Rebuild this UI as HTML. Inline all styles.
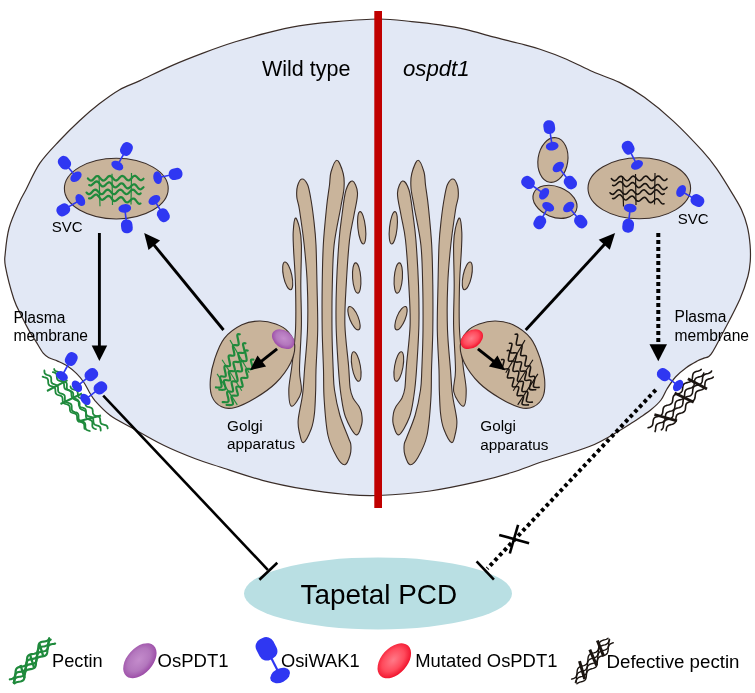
<!DOCTYPE html>
<html><head><meta charset="utf-8"><style>
html,body{margin:0;padding:0;background:#fff;}
svg{display:block;}
text{font-family:"Liberation Sans",sans-serif;}
svg{will-change:transform;}
</style></head><body>
<svg width="755" height="693" viewBox="0 0 755 693">
<path d="M378.0,19.0 C391.5,18.9 401.5,20.6 411.8,21.6 C422.1,22.6 430.9,23.6 440.0,24.9 C449.1,26.2 457.7,27.6 466.5,29.6 C475.3,31.6 484.2,34.6 493.0,36.9 C501.8,39.2 511.7,41.4 519.5,43.5 C527.3,45.6 532.2,46.7 540.0,49.3 C547.8,51.9 557.7,55.5 566.5,59.2 C575.3,63.0 584.2,67.9 593.0,71.8 C601.8,75.7 610.9,78.2 619.5,82.4 C628.1,86.7 635.4,90.8 644.4,97.3 C653.4,103.8 663.7,112.2 673.3,121.1 C682.9,130.0 695.0,142.8 702.2,150.7 C709.4,158.6 711.5,161.4 716.6,168.7 C721.7,176.0 728.7,187.6 732.8,194.4 C736.9,201.2 739.0,204.2 741.4,209.5 C743.8,214.8 745.8,220.3 747.2,226.2 C748.7,232.1 749.6,239.2 750.1,245.0 C750.6,250.8 750.6,255.7 750.3,260.9 C749.9,266.1 749.7,269.7 748.0,276.0 C746.3,282.3 743.8,290.3 740.0,298.9 C736.2,307.5 730.3,318.6 725.5,327.8 C720.7,337.0 714.7,349.1 711.1,354.2 C707.5,359.2 706.1,357.0 703.9,358.1 C701.7,359.2 700.7,359.2 697.7,360.8 C694.8,362.4 689.9,365.0 686.2,367.7 C682.5,370.4 678.7,373.4 675.5,377.0 C672.3,380.6 669.4,385.2 667.0,389.0 C664.6,392.8 663.6,396.6 661.0,400.0 C658.4,403.4 655.0,406.4 651.5,409.3 C648.0,412.2 643.0,415.4 640.0,417.5 C637.0,419.6 636.8,419.8 633.3,422.0 C629.8,424.2 626.1,426.9 618.9,431.0 C611.7,435.1 602.5,441.2 590.0,446.3 C577.5,451.4 556.6,456.9 543.6,461.3 C530.6,465.7 522.4,469.2 511.8,472.5 C501.2,475.8 493.6,478.1 480.0,481.2 C466.4,484.3 447.0,488.6 430.0,491.0 C413.0,493.4 391.8,494.9 378.0,495.5 C364.2,496.1 359.3,495.6 347.1,494.5 C334.9,493.4 318.8,491.6 304.7,489.2 C290.6,486.8 276.5,484.0 262.4,480.3 C248.3,476.6 231.2,470.6 220.0,467.0 C208.8,463.4 204.8,462.4 195.4,458.8 C186.0,455.2 174.2,450.5 163.6,445.3 C153.0,440.1 140.7,432.8 131.8,427.8 C122.9,422.8 116.1,419.7 110.0,415.2 C103.9,410.7 98.5,404.6 95.1,400.8 C91.7,397.0 91.3,395.3 89.4,392.2 C87.5,389.1 85.8,385.1 83.6,382.0 C81.4,378.9 79.1,376.0 76.4,373.4 C73.8,370.8 70.8,368.2 67.7,366.2 C64.6,364.1 60.7,362.5 57.6,361.1 C54.5,359.7 51.4,359.1 49.0,357.8 C46.6,356.5 45.4,355.9 43.2,353.2 C41.0,350.5 38.4,345.5 36.0,341.6 C33.6,337.8 31.1,334.2 28.8,330.1 C26.5,326.0 24.5,322.2 22.0,317.0 C19.5,311.8 16.6,307.4 13.8,299.0 C11.1,290.6 6.9,274.4 5.5,266.9 C4.1,259.4 4.6,260.4 5.2,253.9 C5.8,247.4 6.7,236.7 9.1,228.0 C11.5,219.3 16.7,208.3 19.5,202.0 C22.3,195.7 22.4,196.4 25.8,190.0 C29.2,183.6 34.1,171.7 39.7,163.4 C45.3,155.2 53.0,147.6 59.6,140.5 C66.2,133.4 72.9,126.8 79.5,120.7 C86.1,114.6 92.7,108.9 99.3,103.8 C105.9,98.7 112.4,93.8 119.2,89.9 C126.0,86.0 131.2,84.6 140.0,80.6 C148.8,76.5 161.2,70.2 171.8,65.6 C182.4,61.0 193.0,56.9 203.6,52.9 C214.2,48.9 224.8,45.1 235.4,41.8 C246.0,38.5 256.5,35.5 267.1,32.9 C277.7,30.2 288.3,27.7 298.9,25.9 C309.5,24.1 317.5,23.2 330.7,22.1 C343.9,21.0 364.5,19.1 378.0,19.0Z" fill="#e2e8f5" stroke="#3a2d28" stroke-width="1.2"/>
<g><path d="M295.4,218.0 C294.3,218.7 293.5,226.7 293.2,232.0 C292.9,237.3 293.2,241.2 293.6,250.0 C294.0,258.8 295.2,271.7 295.5,285.0 C295.8,298.3 296.1,316.7 295.5,330.0 C294.9,343.3 293.1,355.0 292.0,365.0 C290.9,375.0 288.9,383.1 288.8,390.0 C288.8,396.9 289.6,405.9 291.7,406.2 C293.8,406.5 299.9,398.0 301.2,392.0 C302.5,386.0 299.5,381.2 299.5,370.0 C299.5,358.8 301.2,339.2 301.4,325.0 C301.6,310.8 300.8,298.3 300.8,285.0 C300.8,271.7 301.6,254.5 301.4,245.0 C301.2,235.5 300.5,232.5 299.5,228.0 C298.5,223.5 296.4,217.3 295.4,218.0Z" fill="#c9b49b" stroke="#3a2d28" stroke-width="1.1"/><path d="M301.9,179.0 C300.2,179.2 298.4,183.0 297.5,186.0 C296.6,189.0 296.5,193.0 296.8,197.0 C297.1,201.0 298.3,202.0 299.5,210.0 C300.7,218.0 302.9,232.5 304.2,245.0 C305.5,257.5 306.8,270.8 307.3,285.0 C307.9,299.2 308.0,315.8 307.5,330.0 C307.0,344.2 305.3,359.2 304.5,370.0 C303.7,380.8 303.6,386.7 302.5,395.0 C301.4,403.3 298.7,413.7 298.2,420.0 C297.7,426.3 298.6,429.2 299.5,433.0 C300.4,436.8 301.4,443.3 303.4,442.6 C305.3,441.9 309.3,433.9 311.2,429.0 C313.1,424.1 313.8,419.5 314.5,413.0 C315.2,406.5 315.4,397.2 315.7,390.0 C315.9,382.8 315.7,380.0 316.0,370.0 C316.3,360.0 317.5,344.2 317.7,330.0 C317.9,315.8 317.3,299.2 317.0,285.0 C316.7,270.8 316.5,255.8 316.0,245.0 C315.5,234.2 314.7,228.0 313.8,220.0 C312.9,212.0 311.6,202.9 310.5,197.0 C309.4,191.1 308.9,187.5 307.5,184.5 C306.1,181.5 303.6,178.8 301.9,179.0Z" fill="#c9b49b" stroke="#3a2d28" stroke-width="1.1"/><path d="M337.0,160.2 C335.0,159.9 332.2,167.9 331.0,172.0 C329.8,176.1 330.2,179.2 329.5,185.0 C328.8,190.8 327.6,197.0 326.6,207.0 C325.6,217.0 324.0,232.0 323.3,245.0 C322.6,258.0 322.4,270.8 322.2,285.0 C322.0,299.2 322.0,315.8 322.2,330.0 C322.4,344.2 323.2,358.3 323.5,370.0 C323.8,381.7 323.4,389.1 324.2,400.0 C324.9,410.9 325.9,425.9 328.0,435.5 C330.1,445.1 334.3,452.6 337.1,457.5 C339.9,462.4 342.7,465.1 344.9,464.7 C347.1,464.3 349.1,458.4 350.1,455.0 C351.1,451.6 351.1,447.3 350.8,444.5 C350.5,441.7 350.3,442.9 348.5,438.0 C346.7,433.1 342.1,423.0 339.8,415.0 C337.5,407.0 335.6,397.5 334.5,390.0 C333.4,382.5 333.6,380.0 333.2,370.0 C332.8,360.0 332.1,344.2 332.0,330.0 C331.9,315.8 331.9,299.2 332.3,285.0 C332.7,270.8 332.7,258.0 334.1,245.0 C335.5,232.0 339.2,216.5 340.8,207.0 C342.4,197.5 343.6,193.6 344.0,188.0 C344.4,182.4 344.4,178.1 343.2,173.5 C342.0,168.9 339.0,160.4 337.0,160.2Z" fill="#c9b49b" stroke="#3a2d28" stroke-width="1.1"/><path d="M352.5,181.0 C350.6,180.5 347.8,184.3 346.0,190.0 C344.2,195.7 343.1,206.7 342.0,215.0 C340.9,223.3 340.0,228.3 339.1,240.0 C338.2,251.7 337.0,270.8 336.5,285.0 C336.0,299.2 335.8,310.8 336.1,325.0 C336.4,339.2 337.7,358.3 338.5,370.0 C339.3,381.7 339.8,387.2 341.0,395.0 C342.2,402.8 343.0,410.4 345.5,417.0 C348.0,423.6 353.3,433.6 356.0,434.8 C358.7,436.0 360.9,427.6 361.8,424.0 C362.7,420.4 362.0,415.9 361.5,413.0 C361.0,410.1 360.4,409.0 359.0,406.5 C357.6,404.0 354.5,401.1 353.0,398.0 C351.5,394.9 350.9,393.5 350.1,388.0 C349.4,382.5 349.4,375.5 348.5,365.0 C347.6,354.5 345.3,338.3 344.9,325.0 C344.5,311.7 345.4,299.2 346.2,285.0 C347.0,270.8 348.2,251.7 349.5,240.0 C350.8,228.3 352.7,222.8 354.0,215.0 C355.3,207.2 357.8,198.7 357.5,193.0 C357.2,187.3 354.4,181.5 352.5,181.0Z" fill="#c9b49b" stroke="#3a2d28" stroke-width="1.1"/><ellipse cx="361.7" cy="227.8" rx="3.8" ry="16.3" transform="rotate(-6 361.7 227.8)" fill="#c9b49b" stroke="#3a2d28" stroke-width="1.1"/><ellipse cx="287.7" cy="275.9" rx="4.2" ry="14.2" transform="rotate(-12 287.7 275.9)" fill="#c9b49b" stroke="#3a2d28" stroke-width="1.1"/><ellipse cx="356.7" cy="278.0" rx="4.1" ry="15.2" transform="rotate(-4 356.7 278.0)" fill="#c9b49b" stroke="#3a2d28" stroke-width="1.1"/><ellipse cx="354.0" cy="318.2" rx="4.3" ry="12.5" transform="rotate(-22 354.0 318.2)" fill="#c9b49b" stroke="#3a2d28" stroke-width="1.1"/><ellipse cx="356.2" cy="366.5" rx="4.2" ry="15.0" transform="rotate(-10 356.2 366.5)" fill="#c9b49b" stroke="#3a2d28" stroke-width="1.1"/></g>
<g transform="translate(755,0) scale(-1,1)"><path d="M295.4,218.0 C294.3,218.7 293.5,226.7 293.2,232.0 C292.9,237.3 293.2,241.2 293.6,250.0 C294.0,258.8 295.2,271.7 295.5,285.0 C295.8,298.3 296.1,316.7 295.5,330.0 C294.9,343.3 293.1,355.0 292.0,365.0 C290.9,375.0 288.9,383.1 288.8,390.0 C288.8,396.9 289.6,405.9 291.7,406.2 C293.8,406.5 299.9,398.0 301.2,392.0 C302.5,386.0 299.5,381.2 299.5,370.0 C299.5,358.8 301.2,339.2 301.4,325.0 C301.6,310.8 300.8,298.3 300.8,285.0 C300.8,271.7 301.6,254.5 301.4,245.0 C301.2,235.5 300.5,232.5 299.5,228.0 C298.5,223.5 296.4,217.3 295.4,218.0Z" fill="#c9b49b" stroke="#3a2d28" stroke-width="1.1"/><path d="M301.9,179.0 C300.2,179.2 298.4,183.0 297.5,186.0 C296.6,189.0 296.5,193.0 296.8,197.0 C297.1,201.0 298.3,202.0 299.5,210.0 C300.7,218.0 302.9,232.5 304.2,245.0 C305.5,257.5 306.8,270.8 307.3,285.0 C307.9,299.2 308.0,315.8 307.5,330.0 C307.0,344.2 305.3,359.2 304.5,370.0 C303.7,380.8 303.6,386.7 302.5,395.0 C301.4,403.3 298.7,413.7 298.2,420.0 C297.7,426.3 298.6,429.2 299.5,433.0 C300.4,436.8 301.4,443.3 303.4,442.6 C305.3,441.9 309.3,433.9 311.2,429.0 C313.1,424.1 313.8,419.5 314.5,413.0 C315.2,406.5 315.4,397.2 315.7,390.0 C315.9,382.8 315.7,380.0 316.0,370.0 C316.3,360.0 317.5,344.2 317.7,330.0 C317.9,315.8 317.3,299.2 317.0,285.0 C316.7,270.8 316.5,255.8 316.0,245.0 C315.5,234.2 314.7,228.0 313.8,220.0 C312.9,212.0 311.6,202.9 310.5,197.0 C309.4,191.1 308.9,187.5 307.5,184.5 C306.1,181.5 303.6,178.8 301.9,179.0Z" fill="#c9b49b" stroke="#3a2d28" stroke-width="1.1"/><path d="M337.0,160.2 C335.0,159.9 332.2,167.9 331.0,172.0 C329.8,176.1 330.2,179.2 329.5,185.0 C328.8,190.8 327.6,197.0 326.6,207.0 C325.6,217.0 324.0,232.0 323.3,245.0 C322.6,258.0 322.4,270.8 322.2,285.0 C322.0,299.2 322.0,315.8 322.2,330.0 C322.4,344.2 323.2,358.3 323.5,370.0 C323.8,381.7 323.4,389.1 324.2,400.0 C324.9,410.9 325.9,425.9 328.0,435.5 C330.1,445.1 334.3,452.6 337.1,457.5 C339.9,462.4 342.7,465.1 344.9,464.7 C347.1,464.3 349.1,458.4 350.1,455.0 C351.1,451.6 351.1,447.3 350.8,444.5 C350.5,441.7 350.3,442.9 348.5,438.0 C346.7,433.1 342.1,423.0 339.8,415.0 C337.5,407.0 335.6,397.5 334.5,390.0 C333.4,382.5 333.6,380.0 333.2,370.0 C332.8,360.0 332.1,344.2 332.0,330.0 C331.9,315.8 331.9,299.2 332.3,285.0 C332.7,270.8 332.7,258.0 334.1,245.0 C335.5,232.0 339.2,216.5 340.8,207.0 C342.4,197.5 343.6,193.6 344.0,188.0 C344.4,182.4 344.4,178.1 343.2,173.5 C342.0,168.9 339.0,160.4 337.0,160.2Z" fill="#c9b49b" stroke="#3a2d28" stroke-width="1.1"/><path d="M352.5,181.0 C350.6,180.5 347.8,184.3 346.0,190.0 C344.2,195.7 343.1,206.7 342.0,215.0 C340.9,223.3 340.0,228.3 339.1,240.0 C338.2,251.7 337.0,270.8 336.5,285.0 C336.0,299.2 335.8,310.8 336.1,325.0 C336.4,339.2 337.7,358.3 338.5,370.0 C339.3,381.7 339.8,387.2 341.0,395.0 C342.2,402.8 343.0,410.4 345.5,417.0 C348.0,423.6 353.3,433.6 356.0,434.8 C358.7,436.0 360.9,427.6 361.8,424.0 C362.7,420.4 362.0,415.9 361.5,413.0 C361.0,410.1 360.4,409.0 359.0,406.5 C357.6,404.0 354.5,401.1 353.0,398.0 C351.5,394.9 350.9,393.5 350.1,388.0 C349.4,382.5 349.4,375.5 348.5,365.0 C347.6,354.5 345.3,338.3 344.9,325.0 C344.5,311.7 345.4,299.2 346.2,285.0 C347.0,270.8 348.2,251.7 349.5,240.0 C350.8,228.3 352.7,222.8 354.0,215.0 C355.3,207.2 357.8,198.7 357.5,193.0 C357.2,187.3 354.4,181.5 352.5,181.0Z" fill="#c9b49b" stroke="#3a2d28" stroke-width="1.1"/><ellipse cx="361.7" cy="227.8" rx="3.8" ry="16.3" transform="rotate(-6 361.7 227.8)" fill="#c9b49b" stroke="#3a2d28" stroke-width="1.1"/><ellipse cx="287.7" cy="275.9" rx="4.2" ry="14.2" transform="rotate(-12 287.7 275.9)" fill="#c9b49b" stroke="#3a2d28" stroke-width="1.1"/><ellipse cx="356.7" cy="278.0" rx="4.1" ry="15.2" transform="rotate(-4 356.7 278.0)" fill="#c9b49b" stroke="#3a2d28" stroke-width="1.1"/><ellipse cx="354.0" cy="318.2" rx="4.3" ry="12.5" transform="rotate(-22 354.0 318.2)" fill="#c9b49b" stroke="#3a2d28" stroke-width="1.1"/><ellipse cx="356.2" cy="366.5" rx="4.2" ry="15.0" transform="rotate(-10 356.2 366.5)" fill="#c9b49b" stroke="#3a2d28" stroke-width="1.1"/></g>
<rect x="374.3" y="11" width="7.7" height="497" fill="#c00000"/>
<text x="262.0" y="75.5" font-size="21.5" text-anchor="start" fill="#000" >Wild type</text>
<text x="403.0" y="75.5" font-size="22.2" text-anchor="start" fill="#000" font-style="italic">ospdt1</text>
<text x="51.7" y="231.7" font-size="15.0" text-anchor="start" fill="#000" >SVC</text>
<text x="677.7" y="223.8" font-size="15.0" text-anchor="start" fill="#000" >SVC</text>
<text x="13.5" y="322.5" font-size="15.6" text-anchor="start" fill="#000" >Plasma</text>
<text x="13.5" y="340.8" font-size="15.6" text-anchor="start" fill="#000" >membrane</text>
<text x="674.5" y="322.3" font-size="15.6" text-anchor="start" fill="#000" >Plasma</text>
<text x="674.5" y="340.8" font-size="15.6" text-anchor="start" fill="#000" >membrane</text>
<text x="227.0" y="430.8" font-size="15.3" text-anchor="start" fill="#000" >Golgi</text>
<text x="227.0" y="449.4" font-size="15.3" text-anchor="start" fill="#000" >apparatus</text>
<text x="480.3" y="430.8" font-size="15.3" text-anchor="start" fill="#000" >Golgi</text>
<text x="480.3" y="449.5" font-size="15.3" text-anchor="start" fill="#000" >apparatus</text>
<path d="M259.5,321.0 C265.1,320.9 271.1,322.3 275.8,324.1 C280.6,325.9 284.9,328.1 288.0,331.6 C291.1,335.1 294.2,339.8 294.7,345.0 C295.1,350.2 293.8,356.4 290.7,362.7 C287.6,369.0 281.7,377.1 275.8,383.0 C269.9,388.9 262.2,393.9 255.4,398.0 C248.6,402.1 240.7,406.0 235.1,407.5 C229.5,409.0 225.4,408.6 221.6,406.8 C217.8,405.0 213.9,401.2 212.0,396.6 C210.1,392.0 209.9,385.3 210.4,379.0 C210.9,372.7 212.5,365.5 214.8,358.7 C217.1,351.9 219.8,343.9 224.3,338.3 C228.8,332.7 236.0,327.7 241.9,324.8 C247.8,321.9 253.8,321.1 259.5,321.0Z" fill="#c9b49b" stroke="#3a2d28" stroke-width="1.1"/>
<path d="M239.8,334.3 C239.4,334.4 237.5,333.4 237.3,335.1 C237.1,336.8 239.3,343.0 238.6,344.7 C237.9,346.5 233.7,343.8 233.0,345.6 C232.3,347.3 235.0,353.4 234.3,355.2 C233.6,356.9 229.5,354.3 228.7,356.0 C228.0,357.8 230.7,363.9 230.0,365.6 C229.3,367.4 225.2,364.7 224.5,366.5 C223.7,368.2 226.5,374.4 225.7,376.1 C225.0,377.8 220.9,375.2 220.2,376.9 C219.5,378.7 222.2,384.8 221.5,386.6 C220.8,388.3 216.8,387.3 215.9,387.4" fill="none" stroke="#1f8a3c" stroke-width="2.2" stroke-linecap="round" stroke-linejoin="round"/><path d="M245.5,343.3 C245.1,343.4 243.2,342.6 243.0,344.1 C242.8,345.6 245.2,351.0 244.4,352.5 C243.6,354.0 239.0,351.7 238.3,353.2 C237.5,354.7 240.5,360.1 239.7,361.6 C238.9,363.1 234.3,360.8 233.5,362.3 C232.7,363.9 235.7,369.2 234.9,370.7 C234.2,372.3 229.6,369.9 228.8,371.5 C228.0,373.0 231.0,378.3 230.2,379.9 C229.4,381.4 224.8,379.1 224.0,380.6 C223.2,382.1 226.3,387.5 225.5,389.0 C224.7,390.5 220.3,389.6 219.3,389.7" fill="none" stroke="#1f8a3c" stroke-width="2.2" stroke-linecap="round" stroke-linejoin="round"/><path d="M247.7,350.6 C247.3,350.7 245.4,349.7 245.2,351.4 C245.0,353.1 247.3,359.0 246.5,360.7 C245.8,362.4 241.4,359.8 240.7,361.5 C239.9,363.2 242.8,369.2 242.0,370.9 C241.3,372.6 236.9,370.0 236.2,371.7 C235.4,373.4 238.3,379.3 237.5,381.0 C236.8,382.7 232.4,380.1 231.7,381.8 C230.9,383.5 233.8,389.5 233.0,391.1 C232.3,392.8 227.9,390.3 227.2,392.0 C226.4,393.6 229.3,399.6 228.5,401.3 C227.8,403.0 223.7,402.0 222.7,402.1" fill="none" stroke="#1f8a3c" stroke-width="2.2" stroke-linecap="round" stroke-linejoin="round"/><path d="M253.4,359.6 C253.0,359.7 251.1,358.9 250.9,360.4 C250.7,361.9 253.2,367.1 252.4,368.6 C251.5,370.1 246.8,367.8 246.0,369.3 C245.2,370.8 248.3,376.0 247.5,377.5 C246.7,379.0 242.0,376.7 241.2,378.2 C240.4,379.7 243.4,384.9 242.6,386.4 C241.8,387.9 237.1,385.6 236.3,387.1 C235.5,388.6 238.6,393.8 237.8,395.3 C237.0,396.8 232.3,394.5 231.5,396.0 C230.6,397.5 233.7,402.7 232.9,404.2 C232.1,405.7 227.7,404.8 226.6,404.9" fill="none" stroke="#1f8a3c" stroke-width="2.2" stroke-linecap="round" stroke-linejoin="round"/><line x1="230.0" y1="340.1" x2="249.2" y2="372.8" stroke="#1f8a3c" stroke-width="1.10" /><line x1="222.1" y1="359.8" x2="241.8" y2="390.8" stroke="#1f8a3c" stroke-width="1.10" /><line x1="217.1" y1="373.9" x2="237.3" y2="404.9" stroke="#1f8a3c" stroke-width="1.10" />
<defs><radialGradient id="gp" cx="50%" cy="45%" r="55%"><stop offset="0" stop-color="#c48ccc"/><stop offset="0.6" stop-color="#b377bd"/><stop offset="1" stop-color="#9b4aa6"/></radialGradient><radialGradient id="gr" cx="50%" cy="45%" r="55%"><stop offset="0" stop-color="#ff7a88"/><stop offset="0.6" stop-color="#ff4a5c"/><stop offset="1" stop-color="#f0102a"/></radialGradient></defs>
<ellipse cx="283.2" cy="339.1" rx="12.3" ry="8.6" transform="rotate(35 283.2 339.1)" fill="url(#gp)"/>
<line x1="277.1" y1="348.9" x2="260.6" y2="361.9" stroke="#000" stroke-width="3.00" /><polygon points="250.0,370.2 257.5,355.4 266.1,366.4" fill="#000"/>
<g transform="translate(755,0) scale(-1,1)"><path d="M259.5,321.0 C265.1,320.9 271.1,322.3 275.8,324.1 C280.6,325.9 284.9,328.1 288.0,331.6 C291.1,335.1 294.2,339.8 294.7,345.0 C295.1,350.2 293.8,356.4 290.7,362.7 C287.6,369.0 281.7,377.1 275.8,383.0 C269.9,388.9 262.2,393.9 255.4,398.0 C248.6,402.1 240.7,406.0 235.1,407.5 C229.5,409.0 225.4,408.6 221.6,406.8 C217.8,405.0 213.9,401.2 212.0,396.6 C210.1,392.0 209.9,385.3 210.4,379.0 C210.9,372.7 212.5,365.5 214.8,358.7 C217.1,351.9 219.8,343.9 224.3,338.3 C228.8,332.7 236.0,327.7 241.9,324.8 C247.8,321.9 253.8,321.1 259.5,321.0Z" fill="#c9b49b" stroke="#3a2d28" stroke-width="1.1"/><path d="M239.8,334.3 C239.4,334.4 237.5,333.4 237.3,335.1 C237.1,336.8 239.3,343.0 238.6,344.7 C237.9,346.5 233.7,343.8 233.0,345.6 C232.3,347.3 235.0,353.4 234.3,355.2 C233.6,356.9 229.5,354.3 228.7,356.0 C228.0,357.8 230.7,363.9 230.0,365.6 C229.3,367.4 225.2,364.7 224.5,366.5 C223.7,368.2 226.5,374.4 225.7,376.1 C225.0,377.8 220.9,375.2 220.2,376.9 C219.5,378.7 222.2,384.8 221.5,386.6 C220.8,388.3 216.8,387.3 215.9,387.4" fill="none" stroke="#1a1410" stroke-width="1.6" stroke-linecap="round" stroke-linejoin="round"/><path d="M245.5,343.3 C245.1,343.4 243.2,342.6 243.0,344.1 C242.8,345.6 245.2,351.0 244.4,352.5 C243.6,354.0 239.0,351.7 238.3,353.2 C237.5,354.7 240.5,360.1 239.7,361.6 C238.9,363.1 234.3,360.8 233.5,362.3 C232.7,363.9 235.7,369.2 234.9,370.7 C234.2,372.3 229.6,369.9 228.8,371.5 C228.0,373.0 231.0,378.3 230.2,379.9 C229.4,381.4 224.8,379.1 224.0,380.6 C223.2,382.1 226.3,387.5 225.5,389.0 C224.7,390.5 220.3,389.6 219.3,389.7" fill="none" stroke="#1a1410" stroke-width="1.6" stroke-linecap="round" stroke-linejoin="round"/><path d="M247.7,350.6 C247.3,350.7 245.4,349.7 245.2,351.4 C245.0,353.1 247.3,359.0 246.5,360.7 C245.8,362.4 241.4,359.8 240.7,361.5 C239.9,363.2 242.8,369.2 242.0,370.9 C241.3,372.6 236.9,370.0 236.2,371.7 C235.4,373.4 238.3,379.3 237.5,381.0 C236.8,382.7 232.4,380.1 231.7,381.8 C230.9,383.5 233.8,389.5 233.0,391.1 C232.3,392.8 227.9,390.3 227.2,392.0 C226.4,393.6 229.3,399.6 228.5,401.3 C227.8,403.0 223.7,402.0 222.7,402.1" fill="none" stroke="#1a1410" stroke-width="1.6" stroke-linecap="round" stroke-linejoin="round"/><path d="M253.4,359.6 C253.0,359.7 251.1,358.9 250.9,360.4 C250.7,361.9 253.2,367.1 252.4,368.6 C251.5,370.1 246.8,367.8 246.0,369.3 C245.2,370.8 248.3,376.0 247.5,377.5 C246.7,379.0 242.0,376.7 241.2,378.2 C240.4,379.7 243.4,384.9 242.6,386.4 C241.8,387.9 237.1,385.6 236.3,387.1 C235.5,388.6 238.6,393.8 237.8,395.3 C237.0,396.8 232.3,394.5 231.5,396.0 C230.6,397.5 233.7,402.7 232.9,404.2 C232.1,405.7 227.7,404.8 226.6,404.9" fill="none" stroke="#1a1410" stroke-width="1.6" stroke-linecap="round" stroke-linejoin="round"/><line x1="230.0" y1="340.1" x2="249.2" y2="372.8" stroke="#1a1410" stroke-width="1.10" /><line x1="222.1" y1="359.8" x2="241.8" y2="390.8" stroke="#1a1410" stroke-width="1.10" /><line x1="217.1" y1="373.9" x2="237.3" y2="404.9" stroke="#1a1410" stroke-width="1.10" /></g>
<ellipse cx="471.8" cy="339.1" rx="12.3" ry="8.6" transform="rotate(-35 471.8 339.1)" fill="url(#gr)"/>
<line x1="477.9" y1="348.9" x2="494.4" y2="361.9" stroke="#000" stroke-width="3.00" /><polygon points="505.0,370.2 488.9,366.4 497.5,355.4" fill="#000"/>
<ellipse cx="116.3" cy="188.6" rx="51.9" ry="30.4" fill="#c9b49b" stroke="#3a2d28" stroke-width="1.1"/>
<path d="M87.90,178.40 L88.92,179.51 L89.94,180.34 L90.95,180.68 L91.96,180.43 L92.96,179.66 L93.97,178.57 L94.97,177.42 L95.97,176.51 L96.98,176.06 L97.99,176.18 L99.01,176.85 L100.03,177.89 L101.05,179.04 L102.06,180.00 L103.08,180.53 L104.09,180.50 L105.10,179.90 L106.10,178.90 L107.10,177.74 L108.11,176.71 L109.11,176.07 L110.12,175.98 L111.14,176.46 L112.16,177.39 L113.17,178.53 L114.19,179.59 L115.21,180.31 L116.22,180.49 L117.23,180.09 L118.23,179.21 L119.24,178.07 L120.24,176.96 L121.25,176.15 L122.25,175.85 L123.27,176.13 L124.28,176.92 L125.30,178.02 L126.32,179.15 L127.34,180.01 L128.35,180.40 L129.36,180.21 L130.37,179.48 L131.37,178.41 L132.37,177.25 L133.38,176.31 L134.39,175.81 L135.40,175.88 L136.41,176.50 L137.43,177.51 L138.45,178.66 L139.47,179.65 L140.48,180.23 L141.49,180.25 L142.50,179.71 L143.51,178.74" fill="none" stroke="#1f8a3c" stroke-width="2.2" stroke-linecap="round"/><path d="M89.15,185.03 L90.13,185.47 L91.15,185.33 L92.21,184.67 L93.29,183.68 L94.39,182.62 L95.46,181.78 L96.50,181.38 L97.50,181.56 L98.45,182.27 L99.38,183.37 L100.29,184.60 L101.22,185.66 L102.18,186.32 L103.18,186.42 L104.22,185.97 L105.30,185.08 L106.39,184.02 L107.48,183.05 L108.54,182.45 L109.55,182.38 L110.52,182.88 L111.46,183.85 L112.37,185.05 L113.29,186.22 L114.24,187.07 L115.22,187.41 L116.25,187.18 L117.31,186.46 L118.40,185.43 L119.49,184.39 L120.56,183.61 L121.60,183.30 L122.58,183.57 L123.53,184.37 L124.45,185.51 L125.37,186.72 L126.30,187.74 L127.27,188.31 L128.28,188.31 L129.33,187.77 L130.41,186.84 L131.50,185.77 L132.58,184.85 L133.63,184.33 L134.64,184.36 L135.60,184.95 L136.53,185.97 L137.45,187.19 L138.37,188.32 L139.32,189.10 L140.31,189.35 L141.35,189.02 L142.42,188.23 L143.51,187.18" fill="none" stroke="#1f8a3c" stroke-width="2.2" stroke-linecap="round"/><path d="M86.50,192.58 L87.50,193.56 L88.51,194.12 L89.51,194.13 L90.51,193.59 L91.52,192.62 L92.52,191.48 L93.53,190.44 L94.53,189.76 L95.53,189.62 L96.54,190.05 L97.54,190.93 L98.54,192.06 L99.55,193.15 L100.55,193.93 L101.56,194.20 L102.56,193.90 L103.56,193.10 L104.57,192.00 L105.57,190.88 L106.57,190.01 L107.58,189.61 L108.58,189.78 L109.59,190.49 L110.59,191.54 L111.59,192.68 L112.60,193.63 L113.60,194.15 L114.60,194.10 L115.61,193.51 L116.61,192.52 L117.61,191.37 L118.62,190.35 L119.62,189.72 L120.63,189.64 L121.63,190.11 L122.63,191.03 L123.64,192.17 L124.64,193.24 L125.64,193.98 L126.65,194.20 L127.65,193.84 L128.66,193.01 L129.66,191.89 L130.66,190.78 L131.67,189.95 L132.67,189.60 L133.67,189.83 L134.68,190.57 L135.68,191.64 L136.69,192.78 L137.69,193.70 L138.69,194.17 L139.70,194.07 L140.70,193.43" fill="none" stroke="#1f8a3c" stroke-width="2.2" stroke-linecap="round"/><path d="M89.06,198.30 L90.07,198.43 L91.14,197.99 L92.25,197.13 L93.38,196.09 L94.50,195.16 L95.58,194.60 L96.60,194.60 L97.56,195.16 L98.47,196.18 L99.35,197.43 L100.24,198.62 L101.17,199.46 L102.16,199.78 L103.20,199.52 L104.30,198.78 L105.43,197.76 L106.56,196.76 L107.65,196.06 L108.69,195.86 L109.67,196.24 L110.60,197.14 L111.49,198.34 L112.37,199.58 L113.29,200.56 L114.25,201.07 L115.28,201.00 L116.36,200.40 L117.48,199.44 L118.62,198.41 L119.72,197.58 L120.78,197.20 L121.78,197.38 L122.72,198.12 L123.62,199.25 L124.51,200.51 L125.41,201.61 L126.35,202.29 L127.36,202.42 L128.43,201.98 L129.54,201.11 L130.67,200.07 L131.79,199.14 L132.87,198.59 L133.89,198.59 L134.85,199.15 L135.76,200.18 L136.64,201.43 L137.53,202.61 L138.46,203.45 L139.45,203.77 L140.50,203.51" fill="none" stroke="#1f8a3c" stroke-width="2.2" stroke-linecap="round"/><line x1="99.0" y1="175.7" x2="100.0" y2="206.3" stroke="#1f8a3c" stroke-width="1.20" /><line x1="112.0" y1="173.8" x2="112.5" y2="204.9" stroke="#1f8a3c" stroke-width="1.20" /><line x1="131.5" y1="172.9" x2="131.0" y2="204.4" stroke="#1f8a3c" stroke-width="1.20" />
<line x1="117.3" y1="165.6" x2="126.5" y2="149.0" stroke="#2f37f2" stroke-width="1.6"/><ellipse cx="117.3" cy="165.6" rx="4.3" ry="6.4" transform="rotate(-61.0 117.3 165.6)" fill="#2f37f2"/><rect x="119.6" y="143.2" width="13.8" height="11.5" rx="5.2" transform="rotate(-61.0 126.5 149.0)" fill="#2f37f2"/>
<line x1="76.0" y1="176.8" x2="64.5" y2="162.7" stroke="#2f37f2" stroke-width="1.6"/><ellipse cx="76.0" cy="176.8" rx="4.3" ry="6.4" transform="rotate(-129.2 76.0 176.8)" fill="#2f37f2"/><rect x="57.6" y="156.9" width="13.8" height="11.5" rx="5.2" transform="rotate(-129.2 64.5 162.7)" fill="#2f37f2"/>
<line x1="157.6" y1="177.7" x2="175.6" y2="174.0" stroke="#2f37f2" stroke-width="1.6"/><ellipse cx="157.6" cy="177.7" rx="4.3" ry="6.4" transform="rotate(-11.6 157.6 177.7)" fill="#2f37f2"/><rect x="168.7" y="168.2" width="13.8" height="11.5" rx="5.2" transform="rotate(-11.6 175.6 174.0)" fill="#2f37f2"/>
<line x1="80.3" y1="200.0" x2="63.3" y2="209.9" stroke="#2f37f2" stroke-width="1.6"/><ellipse cx="80.3" cy="200.0" rx="4.3" ry="6.4" transform="rotate(149.8 80.3 200.0)" fill="#2f37f2"/><rect x="56.4" y="204.2" width="13.8" height="11.5" rx="5.2" transform="rotate(149.8 63.3 209.9)" fill="#2f37f2"/>
<line x1="124.8" y1="208.4" x2="126.9" y2="226.4" stroke="#2f37f2" stroke-width="1.6"/><ellipse cx="124.8" cy="208.4" rx="4.3" ry="6.4" transform="rotate(83.3 124.8 208.4)" fill="#2f37f2"/><rect x="120.0" y="220.7" width="13.8" height="11.5" rx="5.2" transform="rotate(83.3 126.9 226.4)" fill="#2f37f2"/>
<line x1="154.4" y1="200.0" x2="163.3" y2="215.2" stroke="#2f37f2" stroke-width="1.6"/><ellipse cx="154.4" cy="200.0" rx="4.3" ry="6.4" transform="rotate(59.6 154.4 200.0)" fill="#2f37f2"/><rect x="156.4" y="209.4" width="13.8" height="11.5" rx="5.2" transform="rotate(59.6 163.3 215.2)" fill="#2f37f2"/>
<ellipse cx="639.3" cy="188.3" rx="51.3" ry="30.5" fill="#c9b49b" stroke="#3a2d28" stroke-width="1.1"/>
<path d="M611.40,178.60 L612.42,179.71 L613.44,180.54 L614.45,180.88 L615.46,180.63 L616.46,179.86 L617.47,178.77 L618.47,177.62 L619.47,176.71 L620.48,176.26 L621.49,176.38 L622.51,177.05 L623.53,178.09 L624.55,179.24 L625.56,180.20 L626.58,180.73 L627.59,180.70 L628.60,180.10 L629.60,179.10 L630.60,177.94 L631.61,176.91 L632.61,176.27 L633.62,176.18 L634.64,176.66 L635.66,177.59 L636.67,178.73 L637.69,179.79 L638.71,180.51 L639.72,180.69 L640.73,180.29 L641.73,179.41 L642.74,178.27 L643.74,177.16 L644.75,176.35 L645.75,176.05 L646.77,176.33 L647.78,177.12 L648.80,178.22 L649.82,179.35 L650.84,180.21 L651.85,180.60 L652.86,180.41 L653.87,179.68 L654.87,178.61 L655.87,177.45 L656.88,176.51 L657.89,176.01 L658.90,176.08 L659.91,176.70 L660.93,177.71 L661.95,178.86 L662.97,179.85 L663.98,180.43 L664.99,180.45 L666.00,179.91 L667.01,178.94" fill="none" stroke="#1a1410" stroke-width="1.6" stroke-linecap="round"/><path d="M612.65,185.23 L613.63,185.67 L614.65,185.53 L615.71,184.87 L616.79,183.88 L617.89,182.82 L618.96,181.98 L620.00,181.58 L621.00,181.76 L621.95,182.47 L622.88,183.57 L623.79,184.80 L624.72,185.86 L625.68,186.52 L626.68,186.62 L627.72,186.17 L628.80,185.28 L629.89,184.22 L630.98,183.25 L632.04,182.65 L633.05,182.58 L634.02,183.08 L634.96,184.05 L635.87,185.25 L636.79,186.42 L637.74,187.27 L638.72,187.61 L639.75,187.38 L640.81,186.66 L641.90,185.63 L642.99,184.59 L644.06,183.81 L645.10,183.50 L646.08,183.77 L647.03,184.57 L647.95,185.71 L648.87,186.92 L649.80,187.94 L650.77,188.51 L651.78,188.51 L652.83,187.97 L653.91,187.04 L655.00,185.97 L656.08,185.05 L657.13,184.53 L658.14,184.56 L659.10,185.15 L660.03,186.17 L660.95,187.39 L661.87,188.52 L662.82,189.30 L663.81,189.55 L664.85,189.22 L665.92,188.43 L667.01,187.38" fill="none" stroke="#1a1410" stroke-width="1.6" stroke-linecap="round"/><path d="M610.00,192.78 L611.00,193.76 L612.01,194.32 L613.01,194.33 L614.01,193.79 L615.02,192.82 L616.02,191.68 L617.03,190.64 L618.03,189.96 L619.03,189.82 L620.04,190.25 L621.04,191.13 L622.04,192.26 L623.05,193.35 L624.05,194.13 L625.06,194.40 L626.06,194.10 L627.06,193.30 L628.07,192.20 L629.07,191.08 L630.07,190.21 L631.08,189.81 L632.08,189.98 L633.09,190.69 L634.09,191.74 L635.09,192.88 L636.10,193.83 L637.10,194.35 L638.10,194.30 L639.11,193.71 L640.11,192.72 L641.11,191.57 L642.12,190.55 L643.12,189.92 L644.13,189.84 L645.13,190.31 L646.13,191.23 L647.14,192.37 L648.14,193.44 L649.14,194.18 L650.15,194.40 L651.15,194.04 L652.16,193.21 L653.16,192.09 L654.16,190.98 L655.17,190.15 L656.17,189.80 L657.17,190.03 L658.18,190.77 L659.18,191.84 L660.19,192.98 L661.19,193.90 L662.19,194.37 L663.20,194.27 L664.20,193.63" fill="none" stroke="#1a1410" stroke-width="1.6" stroke-linecap="round"/><path d="M612.56,198.50 L613.57,198.63 L614.64,198.19 L615.75,197.33 L616.88,196.29 L618.00,195.36 L619.08,194.80 L620.10,194.80 L621.06,195.36 L621.97,196.38 L622.85,197.63 L623.74,198.82 L624.67,199.66 L625.66,199.98 L626.70,199.72 L627.80,198.98 L628.93,197.96 L630.06,196.96 L631.15,196.26 L632.19,196.06 L633.17,196.44 L634.10,197.34 L634.99,198.54 L635.87,199.78 L636.79,200.76 L637.75,201.27 L638.78,201.20 L639.86,200.60 L640.98,199.64 L642.12,198.61 L643.22,197.78 L644.28,197.40 L645.28,197.58 L646.22,198.32 L647.12,199.45 L648.01,200.71 L648.91,201.81 L649.85,202.49 L650.86,202.62 L651.93,202.18 L653.04,201.31 L654.17,200.27 L655.29,199.34 L656.37,198.79 L657.39,198.79 L658.35,199.35 L659.26,200.38 L660.14,201.63 L661.03,202.81 L661.96,203.65 L662.95,203.97 L664.00,203.71" fill="none" stroke="#1a1410" stroke-width="1.6" stroke-linecap="round"/><line x1="622.5" y1="175.9" x2="623.5" y2="206.5" stroke="#1a1410" stroke-width="1.20" /><line x1="635.5" y1="174.0" x2="636.0" y2="205.1" stroke="#1a1410" stroke-width="1.20" /><line x1="655.0" y1="173.1" x2="654.5" y2="204.6" stroke="#1a1410" stroke-width="1.20" />
<ellipse cx="552.9" cy="160" rx="14.9" ry="22.5" transform="rotate(8 552.9 160)" fill="#c9b49b" stroke="#3a2d28" stroke-width="1.1"/>
<ellipse cx="555" cy="201.8" rx="23" ry="15.2" transform="rotate(22 555 201.8)" fill="#c9b49b" stroke="#3a2d28" stroke-width="1.1"/>
<line x1="637.0" y1="164.9" x2="628.2" y2="147.7" stroke="#2f37f2" stroke-width="1.6"/><ellipse cx="637.0" cy="164.9" rx="4.3" ry="6.4" transform="rotate(-117.1 637.0 164.9)" fill="#2f37f2"/><rect x="621.3" y="141.9" width="13.8" height="11.5" rx="5.2" transform="rotate(-117.1 628.2 147.7)" fill="#2f37f2"/>
<line x1="681.1" y1="191.0" x2="697.4" y2="200.6" stroke="#2f37f2" stroke-width="1.6"/><ellipse cx="681.1" cy="191.0" rx="4.3" ry="6.4" transform="rotate(30.5 681.1 191.0)" fill="#2f37f2"/><rect x="690.5" y="194.8" width="13.8" height="11.5" rx="5.2" transform="rotate(30.5 697.4 200.6)" fill="#2f37f2"/>
<line x1="630.2" y1="208.1" x2="628.2" y2="225.8" stroke="#2f37f2" stroke-width="1.6"/><ellipse cx="630.2" cy="208.1" rx="4.3" ry="6.4" transform="rotate(96.4 630.2 208.1)" fill="#2f37f2"/><rect x="621.3" y="220.1" width="13.8" height="11.5" rx="5.2" transform="rotate(96.4 628.2 225.8)" fill="#2f37f2"/>
<line x1="552.2" y1="146.2" x2="549.3" y2="127.1" stroke="#2f37f2" stroke-width="1.6"/><ellipse cx="552.2" cy="146.2" rx="4.3" ry="6.4" transform="rotate(-98.6 552.2 146.2)" fill="#2f37f2"/><rect x="542.4" y="121.3" width="13.8" height="11.5" rx="5.2" transform="rotate(-98.6 549.3 127.1)" fill="#2f37f2"/>
<line x1="558.3" y1="167.0" x2="570.4" y2="182.5" stroke="#2f37f2" stroke-width="1.6"/><ellipse cx="558.3" cy="167.0" rx="4.3" ry="6.4" transform="rotate(52.0 558.3 167.0)" fill="#2f37f2"/><rect x="563.5" y="176.8" width="13.8" height="11.5" rx="5.2" transform="rotate(52.0 570.4 182.5)" fill="#2f37f2"/>
<line x1="544.1" y1="193.8" x2="528.0" y2="182.5" stroke="#2f37f2" stroke-width="1.6"/><ellipse cx="544.1" cy="193.8" rx="4.3" ry="6.4" transform="rotate(-144.9 544.1 193.8)" fill="#2f37f2"/><rect x="521.1" y="176.8" width="13.8" height="11.5" rx="5.2" transform="rotate(-144.9 528.0 182.5)" fill="#2f37f2"/>
<line x1="548.2" y1="206.8" x2="539.8" y2="222.4" stroke="#2f37f2" stroke-width="1.6"/><ellipse cx="548.2" cy="206.8" rx="4.3" ry="6.4" transform="rotate(118.3 548.2 206.8)" fill="#2f37f2"/><rect x="532.9" y="216.7" width="13.8" height="11.5" rx="5.2" transform="rotate(118.3 539.8 222.4)" fill="#2f37f2"/>
<line x1="568.7" y1="207.1" x2="580.8" y2="221.5" stroke="#2f37f2" stroke-width="1.6"/><ellipse cx="568.7" cy="207.1" rx="4.3" ry="6.4" transform="rotate(50.0 568.7 207.1)" fill="#2f37f2"/><rect x="573.9" y="215.8" width="13.8" height="11.5" rx="5.2" transform="rotate(50.0 580.8 221.5)" fill="#2f37f2"/>
<line x1="223.5" y1="330.0" x2="153.3" y2="244.1" stroke="#000" stroke-width="2.90" /><polygon points="144.2,233.0 160.1,240.6 148.5,250.1" fill="#000"/>
<line x1="525.7" y1="330.0" x2="605.3" y2="243.6" stroke="#000" stroke-width="2.90" /><polygon points="615.1,233.0 609.8,249.8 598.7,239.7" fill="#000"/>
<line x1="99.4" y1="233.0" x2="99.4" y2="347.1" stroke="#000" stroke-width="2.90" /><polygon points="99.4,361.0 91.7,345.5 107.2,345.5" fill="#000"/>
<line x1="658.3" y1="233.1" x2="658.3" y2="343.0" stroke="#000" stroke-width="4.00" stroke-dasharray="3.8 3.2"/>
<polygon points="658.3,361.3 649.5,344.3 667.0,344.3" fill="#000"/>
<path d="M44.40,370.50 L44.41,371.75 L44.59,372.87 L45.07,373.76 L45.89,374.42 L46.97,374.87 L48.18,375.24 L49.33,375.64 L50.26,376.20 L50.88,377.00 L51.17,378.04 L51.23,379.25 L51.22,380.51 L51.31,381.70 L51.67,382.69 L52.35,383.44 L53.34,383.97 L54.52,384.35 L55.71,384.72 L56.75,385.21 L57.50,385.91 L57.91,386.86 L58.05,388.01 L58.04,389.27 L58.08,390.50 L58.31,391.58 L58.86,392.43 L59.74,393.03 L60.86,393.46 L62.07,393.82 L63.19,394.25 L64.06,394.86 L64.61,395.71 L64.85,396.79 L64.88,398.02 L64.87,399.28 L65.01,400.43 L65.42,401.37 L66.17,402.07 L67.21,402.56 L68.41,402.93 L69.59,403.32 L70.58,403.84 L71.26,404.59 L71.61,405.59 L71.70,406.77 L71.69,408.03 L71.75,409.24 L72.04,410.28 L72.66,411.08 L73.59,411.64 L74.75,412.05 L75.96,412.41 L77.04,412.87 L77.85,413.52 L78.33,414.42 L78.51,415.54 L78.52,416.79 L78.53,418.03 L78.71,419.15 L79.20,420.05 L80.01,420.70 L81.10,421.16 L82.30,421.52 L83.46,421.92 L84.39,422.49 L85.00,423.29 L85.29,424.33 L85.35,425.54 L85.34,426.80 L85.44,427.98 L85.79,428.98 L86.47,429.72 L87.46,430.25 L88.64,430.63 L89.84,431.00" fill="none" stroke="#1f8a3c" stroke-width="1.8" stroke-linecap="round"/><path d="M42.62,376.71 L43.72,377.12 L44.95,377.43 L46.13,377.78 L47.09,378.31 L47.74,379.09 L48.07,380.12 L48.18,381.33 L48.22,382.60 L48.38,383.78 L48.78,384.75 L49.51,385.47 L50.54,385.94 L51.74,386.27 L52.95,386.59 L54.00,387.04 L54.77,387.73 L55.21,388.67 L55.38,389.83 L55.43,391.10 L55.53,392.32 L55.83,393.38 L56.44,394.19 L57.37,394.74 L58.53,395.11 L59.76,395.42 L60.88,395.81 L61.76,396.40 L62.31,397.26 L62.57,398.35 L62.64,399.59 L62.70,400.85 L62.91,401.98 L63.41,402.88 L64.23,403.52 L65.32,403.94 L66.55,404.25 L67.73,404.60 L68.71,405.11 L69.38,405.87 L69.74,406.88 L69.86,408.09 L69.90,409.36 L70.04,410.55 L70.42,411.54 L71.13,412.27 L72.14,412.75 L73.34,413.09 L74.55,413.41 L75.62,413.85 L76.41,414.51 L76.87,415.44 L77.06,416.59 L77.11,417.86 L77.19,419.09 L77.48,420.16 L78.07,420.98 L78.98,421.55 L80.13,421.93 L81.36,422.23 L82.50,422.62 L83.39,423.19 L83.97,424.03 L84.24,425.11 L84.32,426.35 L84.37,427.61 L84.57,428.75" fill="none" stroke="#1f8a3c" stroke-width="1.8" stroke-linecap="round"/><path d="M54.12,369.05 L54.49,370.01 L55.20,370.74 L56.21,371.27 L57.38,371.70 L58.54,372.13 L59.50,372.70 L60.15,373.47 L60.46,374.47 L60.51,375.64 L60.44,376.89 L60.43,378.10 L60.65,379.16 L61.21,379.99 L62.09,380.61 L63.20,381.07 L64.39,381.49 L65.46,381.98 L66.27,382.65 L66.73,383.54 L66.89,384.64 L66.85,385.87 L66.79,387.12 L66.89,388.25 L67.28,389.20 L68.02,389.91 L69.04,390.44 L70.21,390.86 L71.36,391.30 L72.31,391.88 L72.94,392.66 L73.23,393.67 L73.26,394.85 L73.19,396.11 L73.19,397.31 L73.44,398.35 L74.01,399.17 L74.91,399.78 L76.03,400.24 L77.22,400.65 L78.27,401.15 L79.06,401.83 L79.51,402.74 L79.65,403.85 L79.61,405.08 L79.55,406.33 L79.66,407.46 L80.08,408.39 L80.83,409.09 L81.86,409.60 L83.04,410.02 L84.18,410.47 L85.11,411.05 L85.72,411.85 L86.00,412.87 L86.02,414.06 L85.94,415.32 L85.96,416.51 L86.22,417.55 L86.81,418.35 L87.73,418.95 L88.86,419.40 L90.04,419.82 L91.09,420.32 L91.86,421.02 L92.28,421.94 L92.41,423.06 L92.36,424.30 L92.31,425.54 L92.44,426.65 L92.87,427.57 L93.64,428.26 L94.69,428.77 L95.87,429.18" fill="none" stroke="#1f8a3c" stroke-width="1.8" stroke-linecap="round"/><path d="M52.85,372.13 L54.07,372.42 L55.16,372.83 L56.00,373.44 L56.51,374.32 L56.75,375.43 L56.82,376.68 L56.90,377.92 L57.15,379.02 L57.68,379.88 L58.54,380.48 L59.65,380.88 L60.87,381.17 L62.04,381.51 L62.99,382.03 L63.65,382.80 L63.99,383.82 L64.11,385.03 L64.16,386.29 L64.32,387.46 L64.73,388.43 L65.45,389.14 L66.47,389.61 L67.66,389.93 L68.87,390.23 L69.94,390.66 L70.72,391.32 L71.19,392.24 L71.39,393.38 L71.45,394.64 L71.54,395.86 L71.83,396.93 L72.42,397.75 L73.32,398.31 L74.45,398.68 L75.68,398.97 L76.83,399.34 L77.74,399.89 L78.34,400.70 L78.64,401.76 L78.74,402.98 L78.80,404.24 L78.99,405.38 L79.44,406.31 L80.21,406.98 L81.26,407.42 L82.47,407.73 L83.67,408.05 L84.70,408.51 L85.43,409.20 L85.85,410.16 L86.02,411.33 L86.07,412.59 L86.19,413.80 L86.52,414.83 L87.16,415.61 L88.10,416.14 L89.27,416.48 L90.49,416.78 L91.61,417.17 L92.47,417.76 L93.02,418.61 L93.28,419.70 L93.36,420.94 L93.43,422.18 L93.66,423.30 L94.16,424.19 L94.98,424.82 L96.07,425.23 L97.29,425.53 L98.47,425.86 L99.45,426.36 L100.14,427.10 L100.51,428.09 L100.65,429.28 L100.70,430.54" fill="none" stroke="#1f8a3c" stroke-width="1.8" stroke-linecap="round"/><path d="M70.49,386.44 L70.73,387.55 L71.23,388.43 L72.05,389.05 L73.13,389.45 L74.35,389.73 L75.54,390.03 L76.54,390.49 L77.25,391.20 L77.65,392.18 L77.82,393.35 L77.90,394.60 L78.05,395.79 L78.41,396.80 L79.09,397.54 L80.05,398.03 L81.22,398.35 L82.45,398.62 L83.55,399.00 L84.41,399.58 L84.96,400.43 L85.23,401.52 L85.32,402.75 L85.42,403.99 L85.66,405.10 L86.19,405.97 L87.02,406.58 L88.11,406.96 L89.33,407.24 L90.51,407.55 L91.50,408.02 L92.20,408.75 L92.59,409.73 L92.75,410.91 L92.82,412.16 L92.98,413.35 L93.36,414.34 L94.04,415.07 L95.02,415.55 L96.20,415.87 L97.42,416.14 L98.52,416.52 L99.36,417.12 L99.90,417.98 L100.15,419.08 L100.25,420.31 L100.34,421.55 L100.60,422.65 L101.14,423.51 L101.98,424.10 L103.08,424.48 L104.30,424.76 L105.48,425.07 L106.46,425.55 L107.14,426.29 L107.52,427.28 L107.67,428.47" fill="none" stroke="#1f8a3c" stroke-width="1.8" stroke-linecap="round"/><line x1="47.0" y1="391.0" x2="67.5" y2="380.2" stroke="#1f8a3c" stroke-width="2.00" /><line x1="60.5" y1="404.0" x2="82.0" y2="393.5" stroke="#1f8a3c" stroke-width="2.00" /><line x1="77.8" y1="421.5" x2="101.0" y2="415.5" stroke="#1f8a3c" stroke-width="2.00" />
<line x1="61.9" y1="376.0" x2="71.3" y2="359.0" stroke="#2f37f2" stroke-width="1.6"/><ellipse cx="61.9" cy="376.0" rx="4.3" ry="6.4" transform="rotate(-61.1 61.9 376.0)" fill="#2f37f2"/><rect x="64.4" y="353.2" width="13.8" height="11.5" rx="5.2" transform="rotate(-61.1 71.3 359.0)" fill="#2f37f2"/>
<line x1="76.9" y1="386.3" x2="91.4" y2="374.7" stroke="#2f37f2" stroke-width="1.6"/><ellipse cx="76.9" cy="386.3" rx="4.3" ry="6.4" transform="rotate(-38.7 76.9 386.3)" fill="#2f37f2"/><rect x="84.5" y="368.9" width="13.8" height="11.5" rx="5.2" transform="rotate(-38.7 91.4 374.7)" fill="#2f37f2"/>
<line x1="85.4" y1="399.4" x2="100.4" y2="387.8" stroke="#2f37f2" stroke-width="1.6"/><ellipse cx="85.4" cy="399.4" rx="4.3" ry="6.4" transform="rotate(-37.7 85.4 399.4)" fill="#2f37f2"/><rect x="93.5" y="382.1" width="13.8" height="11.5" rx="5.2" transform="rotate(-37.7 100.4 387.8)" fill="#2f37f2"/>
<path d="M648.10,427.70 L649.29,427.40 L650.39,427.02 L651.32,426.48 L652.03,425.76 L652.52,424.85 L652.82,423.76 L652.98,422.57 L653.11,421.33 L653.29,420.15 L653.62,419.09 L654.14,418.21 L654.89,417.52 L655.85,417.02 L656.97,416.65 L658.17,416.36 L659.35,416.05 L660.43,415.64 L661.32,415.08 L662.00,414.33 L662.45,413.38 L662.72,412.27 L662.87,411.06 L663.00,409.83 L663.20,408.67 L663.56,407.63 L664.12,406.78 L664.91,406.13 L665.90,405.65 L667.04,405.30 L668.24,405.01 L669.41,404.69 L670.46,404.27 L671.32,403.67 L671.96,402.89 L672.38,401.91 L672.62,400.78 L672.76,399.56 L672.90,398.34 L673.12,397.19 L673.51,396.18 L674.11,395.36 L674.93,394.74 L675.95,394.29 L677.11,393.96 L678.31,393.67 L679.47,393.33 L680.49,392.88 L681.31,392.26 L681.91,391.44 L682.30,390.43 L682.52,389.28 L682.65,388.06 L682.80,386.84 L683.04,385.71 L683.46,384.74 L684.10,383.95 L684.96,383.36 L686.01,382.93 L687.18,382.61 L688.38,382.32 L689.52,381.97 L690.51,381.50 L691.30,380.84 L691.86,379.99 L692.21,378.95 L692.41,377.79 L692.54,376.56 L692.70,375.35 L692.97,374.24 L693.42,373.29 L694.10,372.54 L694.99,371.98 L696.07,371.58 L697.25,371.27 L698.45,370.97 L699.57,370.61 L700.53,370.10 L701.28,369.42" fill="none" stroke="#1a1410" stroke-width="1.6" stroke-linecap="round"/><path d="M655.08,431.60 L655.40,430.56 L655.58,429.39 L655.68,428.17 L655.82,426.97 L656.07,425.87 L656.50,424.92 L657.16,424.16 L658.03,423.59 L659.09,423.17 L660.25,422.84 L661.44,422.52 L662.55,422.15 L663.50,421.64 L664.24,420.96 L664.76,420.08 L665.08,419.03 L665.25,417.87 L665.35,416.64 L665.49,415.45 L665.74,414.35 L666.19,413.41 L666.85,412.66 L667.74,412.10 L668.80,411.68 L669.97,411.35 L671.15,411.04 L672.25,410.66 L673.20,410.14 L673.93,409.45 L674.44,408.57 L674.75,407.51 L674.91,406.34 L675.02,405.12 L675.16,403.92 L675.42,402.83 L675.87,401.90 L676.55,401.16 L677.44,400.60 L678.51,400.19 L679.68,399.87 L680.86,399.55 L681.96,399.16 L682.90,398.64 L683.62,397.94 L684.12,397.05 L684.42,395.99 L684.58,394.81 L684.69,393.59 L684.83,392.40 L685.10,391.32 L685.56,390.39 L686.25,389.66 L687.15,389.11 L688.22,388.70 L689.40,388.38 L690.58,388.06 L691.67,387.67 L692.60,387.14 L693.31,386.43 L693.80,385.53 L694.09,384.47 L694.25,383.29 L694.35,382.06 L694.50,380.88 L694.78,379.80 L695.25,378.88 L695.94,378.16 L696.86,377.61 L697.94,377.21 L699.11,376.89 L700.29,376.57 L701.38,376.18 L702.30,375.64 L703.00,374.92 L703.48,374.02 L703.77,372.95" fill="none" stroke="#1a1410" stroke-width="1.6" stroke-linecap="round"/><path d="M661.29,429.83 L662.13,429.23 L662.75,428.43 L663.15,427.45 L663.38,426.33 L663.51,425.12 L663.63,423.90 L663.83,422.75 L664.20,421.74 L664.78,420.92 L665.58,420.28 L666.59,419.82 L667.73,419.47 L668.92,419.16 L670.07,418.82 L671.09,418.37 L671.92,417.76 L672.52,416.95 L672.90,415.96 L673.12,414.82 L673.25,413.61 L673.37,412.39 L673.58,411.25 L673.96,410.26 L674.56,409.45 L675.38,408.82 L676.40,408.37 L677.55,408.03 L678.74,407.72 L679.88,407.38 L680.89,406.92 L681.70,406.29 L682.28,405.46 L682.66,404.46 L682.86,403.32 L682.98,402.10 L683.11,400.88 L683.33,399.76 L683.73,398.77 L684.34,397.98 L685.18,397.37 L686.21,396.93 L687.37,396.59 L688.56,396.28 L689.69,395.93 L690.69,395.46 L691.48,394.81 L692.05,393.98 L692.41,392.96 L692.60,391.81 L692.72,390.59 L692.85,389.38 L693.09,388.26 L693.50,387.29 L694.13,386.51 L694.98,385.91 L696.03,385.48 L697.19,385.15 L698.38,384.84 L699.50,384.48 L700.49,384.00 L701.26,383.34 L701.81,382.49 L702.16,381.46 L702.34,380.30 L702.46,379.08 L702.59,377.87 L702.84,376.76 L703.27,375.81 L703.92,375.04 L704.79,374.46 L705.84,374.04 L707.01,373.71 L708.20,373.40 L709.31,373.04 L710.28,372.54 L711.04,371.87 L711.58,371.00" fill="none" stroke="#1a1410" stroke-width="1.6" stroke-linecap="round"/><path d="M666.18,430.75 L666.29,429.53 L666.46,428.36 L666.77,427.31 L667.29,426.43 L668.04,425.74 L669.00,425.23 L670.11,424.86 L671.30,424.54 L672.46,424.21 L673.52,423.79 L674.40,423.21 L675.05,422.45 L675.48,421.49 L675.73,420.39 L675.86,419.18 L675.96,417.96 L676.14,416.79 L676.47,415.75 L677.01,414.89 L677.78,414.22 L678.75,413.73 L679.87,413.36 L681.06,413.05 L682.22,412.71 L683.27,412.27 L684.12,411.68 L684.76,410.90 L685.17,409.94 L685.40,408.82 L685.53,407.61 L685.64,406.39 L685.83,405.23 L686.17,404.20 L686.73,403.36 L687.51,402.70 L688.50,402.22 L689.63,401.86 L690.82,401.55 L691.98,401.21 L693.01,400.76 L693.85,400.15 L694.46,399.36 L694.86,398.38 L695.08,397.25 L695.20,396.03 L695.32,394.81 L695.51,393.67 L695.87,392.66 L696.45,391.83 L697.25,391.19 L698.25,390.72 L699.39,390.36 L700.59,390.05 L701.73,389.70 L702.75,389.25 L703.57,388.62 L704.17,387.81 L704.55,386.82 L704.76,385.68 L704.88,384.46 L704.99,383.24 L705.20,382.11 L705.58,381.11 L706.17,380.29 L706.99,379.67 L708.01,379.21 L709.16,378.86 L710.35,378.55 L711.49,378.20 L712.49,377.73 L713.30,377.09" fill="none" stroke="#1a1410" stroke-width="1.6" stroke-linecap="round"/><line x1="654.4" y1="414.5" x2="677.0" y2="420.8" stroke="#1a1410" stroke-width="2.80" /><line x1="674.6" y1="393.1" x2="693.7" y2="402.3" stroke="#1a1410" stroke-width="2.80" /><line x1="687.9" y1="378.7" x2="707.0" y2="389.0" stroke="#1a1410" stroke-width="2.80" />
<line x1="678.1" y1="385.6" x2="663.7" y2="374.6" stroke="#2f37f2" stroke-width="1.6"/><ellipse cx="678.1" cy="385.6" rx="4.3" ry="6.4" transform="rotate(-142.6 678.1 385.6)" fill="#2f37f2"/><rect x="656.8" y="368.9" width="13.8" height="11.5" rx="5.2" transform="rotate(-142.6 663.7 374.6)" fill="#2f37f2"/>
<ellipse cx="378" cy="593.4" rx="134" ry="36" fill="#b9dfe3"/>
<line x1="103.2" y1="395.7" x2="267.8" y2="569.8" stroke="#000" stroke-width="2.60" />
<line x1="259.4" y1="579.7" x2="277.3" y2="562.8" stroke="#000" stroke-width="2.60" />
<line x1="655.8" y1="389.8" x2="487.3" y2="568.6" stroke="#000" stroke-width="4.00" stroke-dasharray="3.6 3.2"/>
<line x1="476.6" y1="561.4" x2="493.9" y2="579.7" stroke="#000" stroke-width="2.60" />
<line x1="499.2" y1="534.9" x2="529.1" y2="543.2" stroke="#000" stroke-width="2.60" />
<line x1="518.1" y1="524.9" x2="509.8" y2="553.5" stroke="#000" stroke-width="2.60" />
<text x="300.5" y="604.0" font-size="27.9" text-anchor="start" fill="#000" >Tapetal PCD</text>
<text x="52.1" y="667.0" font-size="18.2" text-anchor="start" fill="#000" >Pectin</text>
<ellipse cx="139.9" cy="660.7" rx="20.5" ry="12.8" transform="rotate(-48 139.9 660.7)" fill="url(#gp)"/>
<text x="157.6" y="667.2" font-size="18.5" text-anchor="start" fill="#000" >OsPDT1</text>
<line x1="280.2" y1="675.5" x2="266.5" y2="648.8" stroke="#2f37f2" stroke-width="2.2"/><ellipse cx="280.2" cy="675.5" rx="7.0" ry="10.5" transform="rotate(-117.2 280.2 675.5)" fill="#2f37f2"/><rect x="255.0" y="639.3" width="23.0" height="19.0" rx="8.0" transform="rotate(-117.2 266.5 648.8)" fill="#2f37f2"/>
<text x="281.0" y="667.2" font-size="18.3" text-anchor="start" fill="#000" >OsiWAK1</text>
<ellipse cx="394.3" cy="660.8" rx="20.5" ry="13" transform="rotate(-48 394.3 660.8)" fill="url(#gr)"/>
<text x="415.3" y="666.5" font-size="18.4" text-anchor="start" fill="#000" >Mutated OsPDT1</text>
<text x="606.5" y="668.4" font-size="18.7" text-anchor="start" fill="#000" >Defective pectin</text>
<path d="M9.81,679.27 L11.08,679.06 L12.27,678.77 L13.31,678.35 L14.15,677.74 L14.76,676.93 L15.16,675.92 L15.38,674.76 L15.48,673.49 L15.55,672.19 L15.68,670.94 L15.93,669.80 L16.36,668.83 L17.02,668.06 L17.89,667.49 L18.97,667.10 L20.18,666.83 L21.46,666.63 L22.73,666.41 L23.89,666.10 L24.90,665.64 L25.69,665.00 L26.26,664.15 L26.62,663.11 L26.81,661.92 L26.90,660.64 L26.98,659.34 L27.12,658.11 L27.40,657.00 L27.87,656.06 L28.57,655.33 L29.49,654.80 L30.60,654.43 L31.83,654.18 L33.11,653.98 L34.36,653.75 L35.51,653.42 L36.47,652.93 L37.22,652.24 L37.75,651.35 L38.07,650.28 L38.24,649.07 L38.32,647.78 L38.40,646.49 L38.57,645.27 L38.88,644.20 L39.40,643.30 L40.14,642.61 L41.10,642.11 L42.23,641.77 L43.48,641.54 L44.76,641.34 L46.00,641.09 L47.11,640.73 L48.04,640.21 L48.74,639.48 L49.23,638.56" fill="none" stroke="#1f8a3c" stroke-width="2.2" stroke-linecap="round"/><path d="M13.57,682.57 L14.12,681.70 L14.46,680.64 L14.64,679.44 L14.73,678.16 L14.80,676.87 L14.95,675.64 L15.25,674.54 L15.75,673.62 L16.46,672.91 L17.40,672.39 L18.52,672.04 L19.76,671.80 L21.04,671.60 L22.29,671.36 L23.42,671.02 L24.36,670.51 L25.09,669.81 L25.60,668.90 L25.91,667.82 L26.06,666.59 L26.14,665.30 L26.23,664.02 L26.40,662.81 L26.73,661.74 L27.27,660.87 L28.03,660.19 L29.01,659.71 L30.15,659.38 L31.41,659.16 L32.69,658.95 L33.92,658.70 L35.02,658.33 L35.93,657.79 L36.61,657.04 L37.08,656.10 L37.35,654.98 L37.49,653.74 L37.56,652.45 L37.66,651.17 L37.86,649.99 L38.23,648.95 L38.81,648.11 L39.61,647.48 L40.62,647.03 L41.79,646.73 L43.06,646.51 L44.34,646.30 L45.55,646.03 L46.62,645.63 L47.48,645.05 L48.13,644.27 L48.55,643.29 L48.79,642.15 L48.91,640.89 L48.98,639.59 L49.09,638.33" fill="none" stroke="#1f8a3c" stroke-width="2.2" stroke-linecap="round"/><path d="M13.97,682.82 L14.06,681.54 L14.24,680.34 L14.59,679.30 L15.15,678.43 L15.93,677.78 L16.92,677.31 L18.08,677.00 L19.34,676.77 L20.62,676.57 L21.84,676.31 L22.93,675.92 L23.82,675.37 L24.48,674.60 L24.93,673.65 L25.19,672.51 L25.31,671.27 L25.39,669.97 L25.49,668.70 L25.70,667.52 L26.09,666.51 L26.69,665.69 L27.51,665.07 L28.54,664.63 L29.72,664.34 L30.99,664.13 L32.27,663.92 L33.47,663.64 L34.52,663.23 L35.37,662.63 L35.99,661.83 L36.40,660.83 L36.63,659.68 L36.74,658.41 L36.81,657.11 L36.93,655.86 L37.17,654.71 L37.59,653.73 L38.23,652.95 L39.10,652.36 L40.16,651.96 L41.37,651.69 L42.65,651.48 L43.91,651.27 L45.09,650.97 L46.10,650.52 L46.91,649.89 L47.49,649.05 L47.86,648.02 L48.06,646.83 L48.16,645.56 L48.23,644.26 L48.37,643.02 L48.64,641.90 L49.10,640.96 L49.79,640.21 L50.69,639.67" fill="none" stroke="#1f8a3c" stroke-width="2.2" stroke-linecap="round"/><path d="M14.57,683.26 L15.41,682.66 L16.45,682.24 L17.65,681.96 L18.93,681.75 L20.20,681.54 L21.39,681.25 L22.42,680.82 L23.25,680.20 L23.85,679.39 L24.24,678.37 L24.46,677.20 L24.56,675.93 L24.63,674.64 L24.76,673.39 L25.01,672.25 L25.46,671.29 L26.12,670.52 L27.00,669.96 L28.08,669.57 L29.30,669.31 L30.58,669.10 L31.84,668.88 L33.00,668.57 L34.00,668.11 L34.79,667.46 L35.35,666.60 L35.70,665.55 L35.89,664.36 L35.98,663.08 L36.06,661.78 L36.20,660.55 L36.49,659.45 L36.97,658.52 L37.68,657.79 L38.60,657.27 L39.71,656.91 L40.95,656.66 L42.23,656.46 L43.48,656.23 L44.62,655.89 L45.57,655.39 L46.32,654.70 L46.84,653.81 L47.15,652.73 L47.32,651.51 L47.40,650.22 L47.48,648.93 L47.65,647.72 L47.97,646.65 L48.49,645.76 L49.24,645.07 L50.21,644.58 L51.35,644.25 L52.60,644.01 L53.88,643.81 L55.11,643.56" fill="none" stroke="#1f8a3c" stroke-width="2.2" stroke-linecap="round"/><line x1="20.5" y1="665.0" x2="24.5" y2="678.0" stroke="#1f8a3c" stroke-width="2.40" /><line x1="30.0" y1="654.5" x2="34.0" y2="667.5" stroke="#1f8a3c" stroke-width="2.40" /><line x1="39.5" y1="644.0" x2="43.5" y2="657.0" stroke="#1f8a3c" stroke-width="2.40" />
<path d="M571.58,679.08 L572.76,678.74 L573.87,678.35 L574.84,677.84 L575.63,677.18 L576.22,676.35 L576.61,675.36 L576.85,674.24 L576.98,673.03 L577.09,671.80 L577.24,670.61 L577.50,669.51 L577.93,668.56 L578.56,667.76 L579.39,667.13 L580.40,666.65 L581.52,666.28 L582.71,665.95 L583.88,665.61 L584.97,665.19 L585.90,664.65 L586.65,663.96 L587.20,663.09 L587.55,662.07 L587.76,660.93 L587.89,659.72 L587.99,658.49 L588.16,657.31 L588.46,656.24 L588.93,655.32 L589.60,654.56 L590.47,653.96 L591.51,653.51 L592.65,653.15 L593.84,652.82 L595.00,652.47 L596.06,652.03 L596.96,651.46 L597.66,650.73 L598.17,649.83 L598.49,648.78 L598.68,647.62 L598.79,646.40 L598.91,645.18 L599.10,644.02 L599.43,642.97 L599.94,642.08 L600.65,641.36 L601.56,640.80 L602.62,640.37 L603.78,640.02 L604.97,639.69 L606.12,639.33 L607.15,638.86 L608.01,638.26" fill="none" stroke="#1a1410" stroke-width="1.4" stroke-linecap="round"/><path d="M575.32,682.24 L575.85,681.37 L576.20,680.34 L576.40,679.19 L576.52,677.97 L576.63,676.74 L576.80,675.57 L577.11,674.51 L577.60,673.60 L578.28,672.85 L579.16,672.26 L580.21,671.82 L581.36,671.46 L582.55,671.13 L583.70,670.78 L584.75,670.33 L585.64,669.75 L586.33,669.01 L586.82,668.10 L587.13,667.04 L587.31,665.88 L587.42,664.65 L587.54,663.43 L587.74,662.28 L588.08,661.25 L588.61,660.37 L589.33,659.65 L590.25,659.10 L591.32,658.68 L592.49,658.33 L593.68,658.00 L594.82,657.63 L595.84,657.16 L596.68,656.55 L597.33,655.78 L597.78,654.83 L598.06,653.75 L598.22,652.56 L598.33,651.33 L598.46,650.12 L598.68,648.99 L599.06,647.99 L599.62,647.14 L600.39,646.47 L601.35,645.94 L602.44,645.54 L603.62,645.20 L604.81,644.87 L605.92,644.49 L606.91,643.99 L607.72,643.35 L608.32,642.53 L608.74,641.56 L608.99,640.45 L609.13,639.25" fill="none" stroke="#1a1410" stroke-width="1.4" stroke-linecap="round"/><path d="M576.05,682.90 L576.18,681.69 L576.38,680.54 L576.73,679.52 L577.27,678.65 L578.01,677.95 L578.94,677.40 L580.02,676.99 L581.19,676.64 L582.38,676.32 L583.51,675.94 L584.52,675.46 L585.36,674.84 L585.99,674.05 L586.43,673.10 L586.70,672.01 L586.85,670.82 L586.96,669.59 L587.09,668.38 L587.33,667.26 L587.71,666.26 L588.29,665.43 L589.08,664.76 L590.04,664.25 L591.15,663.85 L592.33,663.52 L593.51,663.18 L594.62,662.79 L595.60,662.29 L596.39,661.63 L596.98,660.81 L597.38,659.82 L597.62,658.70 L597.76,657.50 L597.87,656.27 L598.01,655.08 L598.28,653.98 L598.70,653.01 L599.32,652.22 L600.15,651.58 L601.15,651.10 L602.27,650.72 L603.46,650.39 L604.63,650.05 L605.72,649.64 L606.66,649.10 L607.41,648.41 L607.97,647.55 L608.33,646.54 L608.54,645.40 L608.67,644.18 L608.77,642.96 L608.94,641.78 L609.23,640.70 L609.70,639.77" fill="none" stroke="#1a1410" stroke-width="1.4" stroke-linecap="round"/><path d="M576.97,683.71 L577.76,683.06 L578.74,682.55 L579.85,682.16 L581.03,681.83 L582.21,681.50 L583.32,681.10 L584.28,680.58 L585.06,679.92 L585.64,679.08 L586.03,678.09 L586.26,676.96 L586.39,675.75 L586.50,674.53 L586.65,673.34 L586.92,672.24 L587.36,671.29 L588.00,670.50 L588.83,669.88 L589.84,669.40 L590.98,669.03 L592.16,668.70 L593.34,668.36 L594.41,667.94 L595.34,667.40 L596.08,666.70 L596.62,665.83 L596.97,664.80 L597.18,663.65 L597.30,662.44 L597.41,661.21 L597.58,660.04 L597.88,658.97 L598.36,658.05 L599.04,657.30 L599.92,656.71 L600.96,656.26 L602.11,655.90 L603.30,655.58 L604.45,655.22 L605.51,654.78 L606.40,654.21 L607.10,653.47 L607.59,652.56 L607.91,651.51 L608.09,650.34 L608.20,649.12 L608.32,647.90 L608.51,646.74 L608.85,645.71 L609.37,644.82 L610.09,644.10 L611.00,643.55 L612.07,643.12 L613.24,642.77" fill="none" stroke="#1a1410" stroke-width="1.4" stroke-linecap="round"/><line x1="579.5" y1="661.2" x2="584.7" y2="679.0" stroke="#1a1410" stroke-width="3.00" /><line x1="589.8" y1="649.7" x2="596.6" y2="665.5" stroke="#1a1410" stroke-width="3.00" /><line x1="597.4" y1="640.5" x2="603.7" y2="656.4" stroke="#1a1410" stroke-width="3.00" />
</svg>
</body></html>
